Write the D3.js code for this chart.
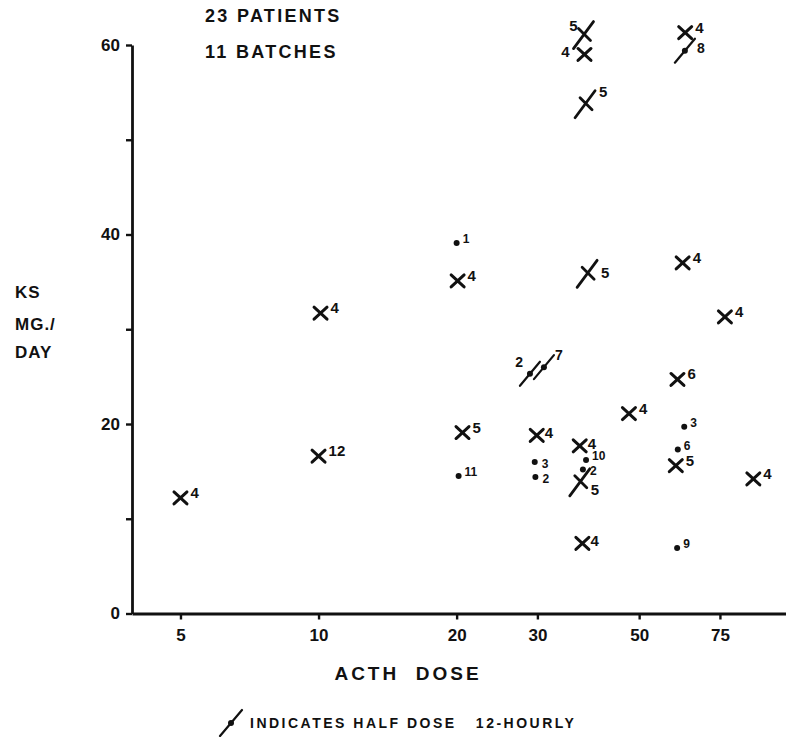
<!DOCTYPE html>
<html><head><meta charset="utf-8">
<script src="https://cdn.jsdelivr.net/npm/d3@7"></script>
<style>
html,body{margin:0;padding:0;background:#fff;}
svg{display:block;}
text{font-family:"Liberation Sans",Arial,sans-serif;font-weight:bold;fill:#111;}
</style></head><body><svg id="chart" width="786" height="737"></svg>
<script>
// ---- data ----
const doseTicks = [5, 10, 20, 30, 50, 75];
const ksTicks = [0, 10, 20, 30, 40, 50, 60];
const ksLabels = [0, 20, 40, 60];
const titleLines = ["23 PATIENTS", "11 BATCHES"];
const yTitle = ["KS", "MG./", "DAY"];
const xTitle = "ACTH  DOSE";
const legendText = "INDICATES HALF DOSE   12-HOURLY";
// full dose, cross: [ACTH dose, KS mg/day, batch, label side]
const crosses = [
  [5.0, 12.2, "4", "ne"],
  [10.0, 16.6, "12", "ne"],
  [10.1, 31.7, "4", "ne"],
  [20.1, 35.1, "4", "ne"],
  [20.6, 19.1, "5", "ne"],
  [29.9, 18.8, "4", "e"],
  [38.0, 59.0, "4", "w"],
  [37.1, 17.7, "4", "e"],
  [37.6, 7.4, "4", "e"],
  [47.5, 21.1, "4", "ne"],
  [63.0, 61.3, "4", "ne"],
  [62.2, 37.0, "4", "ne"],
  [60.6, 24.7, "6", "ne"],
  [60.1, 15.6, "5", "ne"],
  [76.9, 31.3, "4", "ne"],
  [88.7, 14.2, "4", "ne"]
];
// half dose 12-hourly, cross
const halfCrosses = [
  [38.0, 61.1, "5", "nw"],
  [38.3, 53.8, "5", "ne"],
  [38.7, 35.9, "5", "e"],
  [37.3, 13.9, "5", "se"]
];
// full dose, dot
const dots = [
  [20.0, 39.1, "1", "ne"],
  [20.2, 14.5, "11", "ne"],
  [29.6, 16.0, "3", "e"],
  [29.7, 14.4, "2", "e"],
  [38.3, 16.2, "10", "ne"],
  [37.7, 15.2, "2", "e"],
  [62.7, 19.7, "3", "ne"],
  [60.7, 17.3, "6", "ne"],
  [60.5, 6.9, "9", "ne"]
];
// half dose 12-hourly, dot
const halfDots = [
  [28.9, 25.3, "2", "w"],
  [31.0, 26.0, "7", "ne"],
  [62.9, 59.4, "8", "e"]
];

// ---- chart ----
const W = 786, H = 737;
const margin = {left: 132, right: 0, top: 45, bottom: 123.5};
const svg = d3.select("#chart");
const x = d3.scaleLog().domain([3.92, 104.5]).range([margin.left, W - margin.right]);
const y = d3.scaleLinear().domain([0, 60]).range([H - margin.bottom, margin.top]);
const ink = "#111";
const FONT = '"Liberation Sans", Arial, sans-serif';

// axes
const gx = svg.append("g")
  .attr("transform", `translate(0,${y(0)})`)
  .call(d3.axisBottom(x).tickValues(doseTicks).tickFormat(d3.format("d"))
    .tickSize(6).tickSizeOuter(0).tickPadding(9));
const gy = svg.append("g")
  .attr("transform", `translate(${margin.left},0)`)
  .call(d3.axisLeft(y).tickValues(ksTicks)
    .tickFormat(d => ksLabels.includes(d) ? d : "")
    .tickSize(6).tickSizeOuter(0).tickPadding(6));
[gx, gy].forEach(g => {
  g.select(".domain").attr("stroke", ink).attr("stroke-width", 2.8);
  g.selectAll(".tick line").attr("stroke", ink).attr("stroke-width", 2.4);
  g.selectAll(".tick text").attr("fill", ink)
    .style("font-size", "17px").style("font-weight", "bold").style("font-family", FONT);
});

// titles
svg.selectAll("text.title").data(titleLines).join("text")
  .attr("class", "title")
  .attr("x", 205).attr("y", (d, i) => 22 + i * 36)
  .style("font-size", "18px").attr("letter-spacing", 2.3)
  .text(d => d);

svg.selectAll("text.ytitle").data(yTitle).join("text")
  .attr("class", "ytitle")
  .attr("x", 15).attr("y", (d, i) => [298, 330, 358][i])
  .style("font-size", "17px").attr("letter-spacing", 1)
  .text(d => d);

svg.append("text")
  .attr("x", 408).attr("y", 680)
  .attr("text-anchor", "middle")
  .style("font-size", "19px").attr("letter-spacing", 3)
  .style("white-space", "pre")
  .text(xTitle);

// marker shapes
const crossPath = "M-6.5,-6L6.5,6M-6.5,6L6.5,-6";
const halfCrossPath = "M-6,-6L6,6M-11,14L9,-13";
const slashPath = "M-10,12L10,-12";

// label offsets: [dx, dy, anchor]
const offs = {
  x:  {ne: [10, 0, "start"], e: [8, 3, "start"], w: [-15, 3, "end"]},
  xh: {nw: [-7, -4, "end"], ne: [13, -7, "start"], e: [13, 5, "start"], se: [10, 13, "start"]},
  d:  {ne: [6, 0, "start"], e: [7, 6, "start"]},
  dh: {w: [-7, -7, "end"], ne: [11, -7, "start"], e: [12, 2, "start"]}
};

function addLabels(g, kind, size) {
  g.append("text")
    .attr("x", d => offs[kind][d[3]][0])
    .attr("y", d => offs[kind][d[3]][1])
    .attr("text-anchor", d => offs[kind][d[3]][2])
    .style("font-size", size + "px")
    .text(d => d[2]);
}

const place = d => `translate(${x(d[0])},${y(d[1])})`;

const gC = svg.append("g").selectAll("g").data(crosses).join("g").attr("transform", place);
gC.append("path").attr("d", crossPath).attr("stroke", ink).attr("stroke-width", 3)
  .attr("stroke-linecap", "round").attr("fill", "none");
addLabels(gC, "x", 15);

const gHC = svg.append("g").selectAll("g").data(halfCrosses).join("g").attr("transform", place);
gHC.append("path").attr("d", halfCrossPath).attr("stroke", ink).attr("stroke-width", 2.8)
  .attr("stroke-linecap", "round").attr("fill", "none");
addLabels(gHC, "xh", 15);

const gD = svg.append("g").selectAll("g").data(dots).join("g").attr("transform", place);
gD.append("circle").attr("r", 3).attr("fill", ink);
addLabels(gD, "d", 12);

const gHD = svg.append("g").selectAll("g").data(halfDots).join("g").attr("transform", place);
gHD.append("path").attr("d", slashPath).attr("stroke", ink).attr("stroke-width", 2.2)
  .attr("stroke-linecap", "round");
gHD.append("circle").attr("r", 3).attr("fill", ink);
addLabels(gHD, "dh", 14);

// legend
const lg = svg.append("g").attr("transform", "translate(231,723)");
lg.append("path").attr("d", "M-11,13L11,-13").attr("stroke", ink).attr("stroke-width", 2.2)
  .attr("stroke-linecap", "round");
lg.append("circle").attr("r", 3).attr("fill", ink);
svg.append("text")
  .attr("x", 250).attr("y", 728)
  .style("font-size", "14px").attr("letter-spacing", 2.5)
  .style("white-space", "pre")
  .text(legendText);
</script>
</body></html>
